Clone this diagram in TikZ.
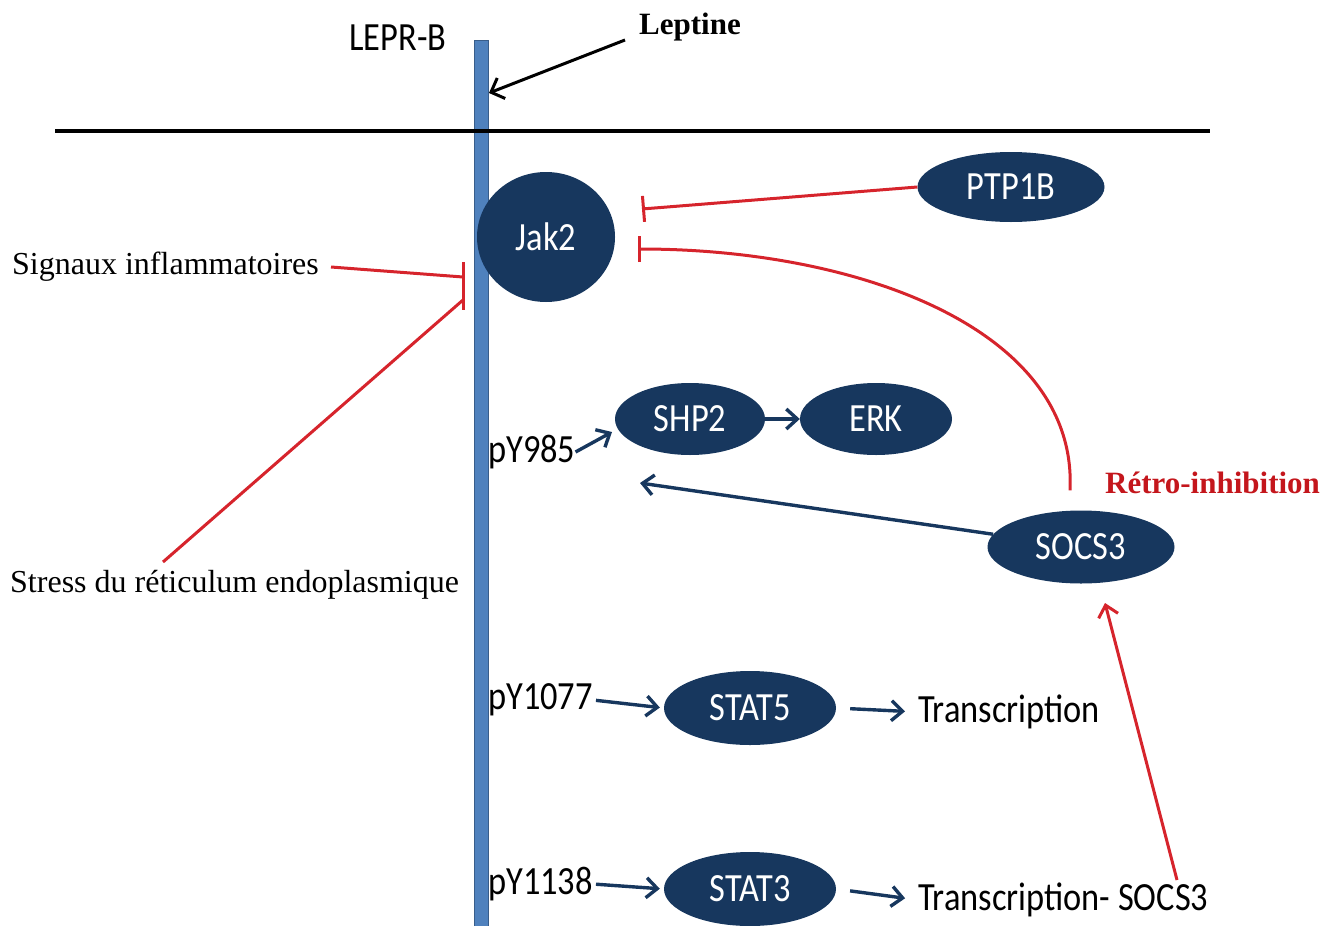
\documentclass[tikz,border=0pt]{standalone}
\usepackage{fontspec}
\setmainfont{Liberation Serif}
\newfontfamily\lab[FakeStretch=0.86]{Carlito}
\usetikzlibrary{shapes.geometric,arrows.meta}
\definecolor{navy}{RGB}{23,55,94}
\definecolor{membrane}{RGB}{79,129,189}
\definecolor{memedge}{RGB}{56,93,138}
\definecolor{inhib}{RGB}{214,36,44}
\definecolor{retro}{RGB}{196,22,28}

\begin{document}
\begin{tikzpicture}[x=1pt, y=-1pt,
	prot/.style={ellipse, fill=navy, text=white, inner sep=0pt, font=\lab\fontsize{40}{42}\selectfont},
	lbl/.style={inner sep=0pt, font=\lab\fontsize{40}{42}\selectfont},
	txt/.style={inner sep=0pt, anchor=west, font=\fontsize{32}{36}\selectfont},
	act/.style={navy, line width=3.4pt, -{Straight Barb[length=11pt,width=20pt]}},
	inh/.style={inhib, line width=3pt, -{Bar[width=26pt]}}]
	\useasboundingbox (0,0) rectangle (1341,926);

	\fill[membrane, draw=memedge, line width=1pt] (474,40) rectangle (488,926);
	\draw[line width=4.5pt] (55,131) -- (1210,131);

	\node[lbl] (lepr) at (398,38) {LEPR-B};
	\node[inner sep=0pt, font=\bfseries\fontsize{31}{34}\selectfont] (lept) at (690,27) {Leptine};
	\coordinate (leptin) at (489,93);
	\draw[line width=3pt, -{Straight Barb[length=11pt,width=22pt]}] ([xshift=-14pt,yshift=-13pt]lept.west) -- (leptin);

	\node[prot, minimum width=138pt, minimum height=130pt] (jak2) at (546,237) {Jak2};
	\node[prot, minimum width=187pt, minimum height=70pt] (ptp1b) at (1011,187) {PTP1B};
	\node[prot, minimum width=150pt, minimum height=72pt] (shp2) at (690,419) {SHP2};
	\node[prot, minimum width=152pt, minimum height=72pt] (erk) at (876,419) {ERK};
	\node[prot, minimum width=187pt, minimum height=73pt] (socs3) at (1081,547) {SOCS3};
	\node[prot, minimum width=172pt, minimum height=74pt] (stat5) at (750,708) {STAT5};
	\node[prot, minimum width=172pt, minimum height=74pt] (stat3) at (750,889) {STAT3};

	\node[lbl, anchor=west] (p985) at (488,452) {pY985};
	\node[lbl, anchor=west] (p1077) at (488,700) {pY1077};
	\node[lbl, anchor=west] (p1138) at (488,884) {pY1138};
	\node[lbl, anchor=west] (tr5) at (918,712) {Transcription};
	\node[lbl, anchor=west] (tr3) at (918,900) {Transcription- SOCS3};

	\node[txt] (sig) at (12,267) {Signaux inflammatoires};
	\node[txt] (stress) at (10,585) {Stress du réticulum endoplasmique};
	\node[txt, text=retro, font=\bfseries\fontsize{31}{34}\selectfont] (retroinh) at (1105,483) {Rétro-inhibition};

	\draw[act] (p985.east) -- (612,432);
	\draw[act] (shp2) -- (erk);
	\coordinate (socsend) at (640,483);
	\draw[act] (socs3) -- (socsend);
	\draw[act, shorten <=3pt, shorten >=4pt] (p1077.east) -- (stat5.west);
	\draw[act, shorten <=3pt, shorten >=4pt] (p1138.east) -- (stat3.west);
	\draw[act, shorten <=14pt, shorten >=13pt] (stat5.east) -- (tr5.west);
	\draw[act, shorten <=14pt, shorten >=13pt] (stat3.east) -- (tr3.west);

	\coordinate (jakA) at (642,209);
	\coordinate (jakB) at (638,249);
	\draw[inh] (ptp1b.west) -- (jakA);
	\draw[inh] ([shift={(-11pt,20pt)}]socs3.north) .. controls (1078,330) and (860,249) .. (jakB);

	\coordinate (barT) at (463,262);
	\coordinate (barB) at (463,310);
	\coordinate (barS) at (463,277);
	\coordinate (barR) at (463,300);
	\draw[inhib, line width=3pt] (barT) -- (barB);
	\draw[inhib, line width=3pt] ([xshift=12pt]sig.east) -- (barS);
	\draw[inhib, line width=3pt] (163,562) -- (barR);

	\coordinate (socsin) at (1105,603);
	\coordinate (trtail) at (1177,880);
	\draw[inhib, line width=3pt, -{Straight Barb[length=11pt,width=20pt]}] (trtail) -- (socsin);
\end{tikzpicture}
\end{document}
